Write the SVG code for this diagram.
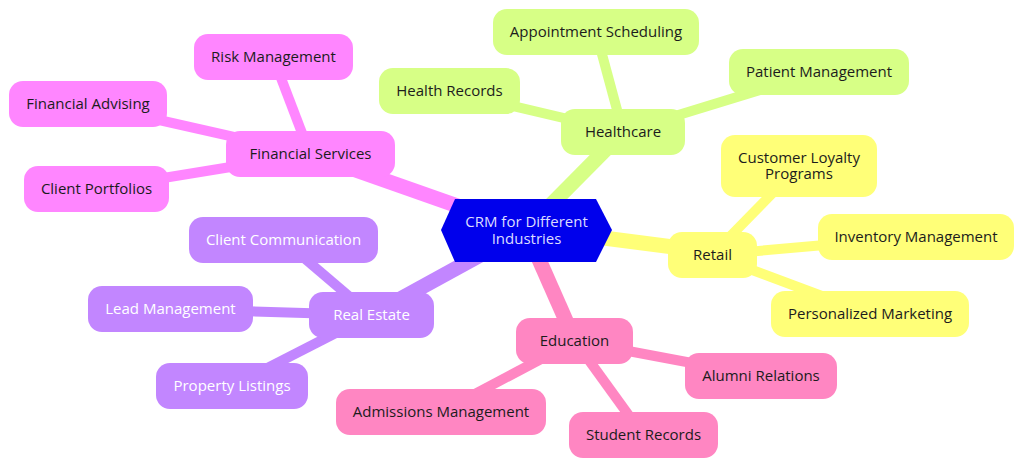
<svg xmlns="http://www.w3.org/2000/svg" width="1024" height="468" viewBox="0 0 1024 468">
<style>
text{font-family:"Open Sans","Noto Sans","DejaVu Sans",sans-serif;font-size:15px;text-anchor:middle;fill:#1c1c1c}
.e0{stroke-width:15;stroke-linecap:butt;fill:none}
.e1{stroke-width:10;stroke-linecap:butt;fill:none}
.fin{fill:#ff86ff}.finE{stroke:#ff86ff}
.hc{fill:#d7ff86}.hcE{stroke:#d7ff86}
.rt{fill:#ffff78}.rtE{stroke:#ffff78}
.re{fill:#c286ff}.reE{stroke:#c286ff}
.ed{fill:#ff86c2}.edE{stroke:#ff86c2}
.re text{fill:#ffffff}
.root text{fill:#dcdcff}
</style>
<rect width="1024" height="468" fill="#ffffff"/>
<g id="connectors">
<line class="e1 finE" x1="310" y1="154" x2="273" y2="57"/>
<line class="e1 finE" x1="310" y1="154" x2="88" y2="104"/>
<line class="e1 finE" x1="310" y1="154" x2="96" y2="189"/>
<line class="e1 hcE" x1="623" y1="132" x2="596" y2="32"/>
<line class="e1 hcE" x1="623" y1="132" x2="449" y2="91"/>
<line class="e1 hcE" x1="623" y1="132" x2="819" y2="72"/>
<line class="e1 rtE" x1="712" y1="255" x2="799" y2="166"/>
<line class="e1 rtE" x1="712" y1="255" x2="916" y2="237"/>
<line class="e1 rtE" x1="712" y1="255" x2="870" y2="314"/>
<line class="e1 reE" x1="371" y1="315" x2="283" y2="240"/>
<line class="e1 reE" x1="371" y1="315" x2="170" y2="309"/>
<line class="e1 reE" x1="371" y1="315" x2="232" y2="386"/>
<line class="e1 edE" x1="575" y1="341" x2="761" y2="376"/>
<line class="e1 edE" x1="575" y1="341" x2="441" y2="412"/>
<line class="e1 edE" x1="575" y1="341" x2="643" y2="435"/>
<line class="e0 finE" x1="526" y1="230" x2="310" y2="154"/>
<line class="e0 hcE" x1="526" y1="230" x2="623" y2="132"/>
<line class="e0 rtE" x1="526" y1="228" x2="712" y2="252"/>
<line class="e0 reE" x1="526" y1="230" x2="371" y2="315"/>
<line class="e0 edE" x1="526" y1="230" x2="575" y2="341"/>
</g>
<g id="root" class="root">
<polygon points="441,230 455,199 596,199 612,230 596,262 455,262" fill="#0000ec"/>
<text x="526.5" y="227">CRM for Different<tspan x="526.5" dy="17">Industries</tspan></text>
</g>
<g id="financial-services" class="fin"><rect x="226" y="131" width="169" height="46" rx="14"/><text x="310.5" y="159">Financial Services</text></g>
<g id="risk-management" class="fin"><rect x="194" y="34" width="159" height="46" rx="14"/><text x="273.5" y="62">Risk Management</text></g>
<g id="financial-advising" class="fin"><rect x="9" y="81" width="158" height="46" rx="14"/><text x="88" y="109">Financial Advising</text></g>
<g id="client-portfolios" class="fin"><rect x="24" y="166" width="145" height="46" rx="14"/><text x="96.5" y="194">Client Portfolios</text></g>
<g id="healthcare" class="hc"><rect x="561" y="109" width="124" height="46" rx="14"/><text x="623" y="137">Healthcare</text></g>
<g id="appointment-scheduling" class="hc"><rect x="493" y="9" width="206" height="46" rx="14"/><text x="596" y="37">Appointment Scheduling</text></g>
<g id="health-records" class="hc"><rect x="379" y="68" width="141" height="46" rx="14"/><text x="449.5" y="96">Health Records</text></g>
<g id="patient-management" class="hc"><rect x="729" y="49" width="180" height="46" rx="14"/><text x="819" y="77">Patient Management</text></g>
<g id="retail" class="rt"><rect x="668" y="232" width="89" height="46" rx="14"/><text x="712.5" y="260">Retail</text></g>
<g id="customer-loyalty-programs" class="rt"><rect x="721" y="135" width="156" height="62" rx="14"/><text x="799" y="163">Customer Loyalty<tspan x="799" dy="16">Programs</tspan></text></g>
<g id="inventory-management" class="rt"><rect x="818" y="214" width="196" height="46" rx="14"/><text x="916" y="242">Inventory Management</text></g>
<g id="personalized-marketing" class="rt"><rect x="771" y="291" width="198" height="46" rx="14"/><text x="870" y="319">Personalized Marketing</text></g>
<g id="real-estate" class="re"><rect x="309" y="292" width="125" height="46" rx="14"/><text x="371.5" y="320">Real Estate</text></g>
<g id="client-communication" class="re"><rect x="189" y="217" width="189" height="46" rx="14"/><text x="283.5" y="245">Client Communication</text></g>
<g id="lead-management" class="re"><rect x="88" y="286" width="165" height="46" rx="14"/><text x="170.5" y="314">Lead Management</text></g>
<g id="property-listings" class="re"><rect x="156" y="363" width="152" height="46" rx="14"/><text x="232" y="391">Property Listings</text></g>
<g id="education" class="ed"><rect x="516" y="318" width="117" height="46" rx="14"/><text x="574.5" y="346">Education</text></g>
<g id="alumni-relations" class="ed"><rect x="685" y="353" width="152" height="46" rx="14"/><text x="761" y="381">Alumni Relations</text></g>
<g id="admissions-management" class="ed"><rect x="336" y="389" width="210" height="46" rx="14"/><text x="441" y="417">Admissions Management</text></g>
<g id="student-records" class="ed"><rect x="569" y="412" width="149" height="46" rx="14"/><text x="643.5" y="440">Student Records</text></g>
</svg>
